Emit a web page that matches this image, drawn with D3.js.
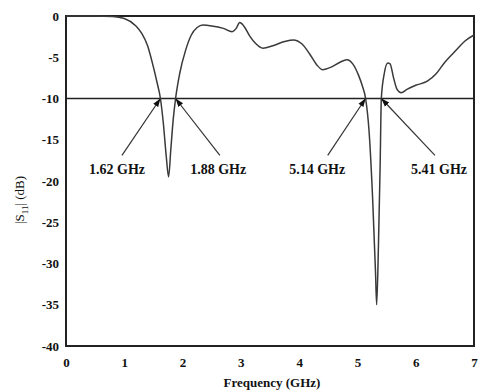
<!DOCTYPE html>
<html>
<head>
<meta charset="utf-8">
<script src="https://cdn.jsdelivr.net/npm/d3@7"></script>
<style>
  body { margin: 0; background: #fff; }
  svg text { font-family: "Liberation Serif", "Times New Roman", serif; fill: #111; }
</style>
</head>
<body>
<svg id="chart" width="479" height="392"></svg>
<script>
var freq = [0, 0.5, 0.8, 1.0, 1.2, 1.3, 1.4, 1.5, 1.56, 1.62, 1.67, 1.72, 1.76, 1.80, 1.84, 1.88,
  1.95, 2.05, 2.15, 2.25, 2.35, 2.5, 2.7, 2.85, 2.92, 2.98, 3.05, 3.15, 3.25, 3.38, 3.55, 3.75,
  3.9, 4.05, 4.18, 4.3, 4.4, 4.55, 4.7, 4.82, 4.92, 5.02, 5.09, 5.14, 5.2, 5.26, 5.31, 5.33,
  5.36, 5.39, 5.41, 5.46, 5.52, 5.56, 5.62, 5.68, 5.75, 5.85, 6.0, 6.2, 6.35, 6.5, 6.7, 6.85, 7.0];
var s11 = [0, 0, -0.05, -0.3, -1.2, -2.1, -3.6, -6.2, -8, -10, -13, -17, -19.5, -16, -12.5, -10,
  -7, -4.2, -2.3, -1.4, -1.1, -1.2, -1.5, -1.9, -1.5, -0.8, -1.2, -2.4, -3.3, -3.9, -3.6, -3.1,
  -2.9, -3.4, -4.6, -5.9, -6.5, -6.2, -5.6, -5.3, -5.8, -7.2, -8.6, -10, -14, -22, -31, -35,
  -28, -18, -10, -7, -5.7, -5.8, -7.5, -8.9, -9.3, -8.9, -8.4, -7.9, -7.0, -5.6, -4.1, -3.0, -2.3];

var xTicks = [0, 1, 2, 3, 4, 5, 6, 7];
var yTicks = [0, -5, -10, -15, -20, -25, -30, -35, -40];

// -10 dB marker crossings
var markFreq = [1.62, 1.88, 5.14, 5.41];
var markText = ["1.62 GHz", "1.88 GHz", "5.14 GHz", "5.41 GHz"];
var markLabelFreq = [0.875, 2.61, 4.31, 6.40];
var markStartFreq = [0.96, 2.64, 4.49, 6.33];

var margin = {top: 16, right: 5, bottom: 46, left: 66};
var W = 479, H = 392;
var svg = d3.select("#chart");

var x = d3.scaleLinear().domain([0, 7]).range([margin.left, W - margin.right]);
var y = d3.scaleLinear().domain([-40, 0]).range([H - margin.bottom, margin.top]);

svg.append("defs").append("marker")
  .attr("id", "arr")
  .attr("viewBox", "0 0 10 10")
  .attr("refX", 10).attr("refY", 5)
  .attr("markerWidth", 7).attr("markerHeight", 7)
  .attr("orient", "auto")
  .append("path").attr("d", "M0,1.5 L10,5 L0,8.5 Z").attr("fill", "#111");

// axes
var xAxis = svg.append("g")
  .attr("transform", "translate(0," + (H - margin.bottom) + ")")
  .call(d3.axisBottom(x).tickValues(xTicks).tickSize(0).tickPadding(12).tickFormat(d3.format("d")));
var yAxis = svg.append("g")
  .attr("transform", "translate(" + margin.left + ",0)")
  .call(d3.axisLeft(y).tickValues(yTicks).tickSize(0).tickPadding(7).tickFormat(function(d){ return d === 0 ? "0" : "-" + Math.abs(d); }));
[xAxis, yAxis].forEach(function(g){
  g.select(".domain").remove();
  g.selectAll("text").attr("font-family", "Liberation Serif").attr("font-weight", "bold").attr("font-size", 13).attr("fill", "#111");
});

// frame
svg.append("rect")
  .attr("x", x(0)).attr("y", y(0))
  .attr("width", x(7) - x(0)).attr("height", y(-40) - y(0))
  .attr("fill", "none").attr("stroke", "#222").attr("stroke-width", 2);

// -10 dB reference line
svg.append("line")
  .attr("x1", x(0)).attr("x2", x(7))
  .attr("y1", y(-10)).attr("y2", y(-10))
  .attr("stroke", "#222").attr("stroke-width", 1.5);

// curve
var line = d3.line()
  .x(function(d, i){ return x(freq[i]); })
  .y(function(d){ return y(d); })
  .curve(d3.curveMonotoneX);
svg.append("path")
  .attr("d", line(s11))
  .attr("fill", "none").attr("stroke", "#3a3a3a").attr("stroke-width", 1.5);

// annotations
markFreq.forEach(function(f, i){
  svg.append("line")
    .attr("x1", x(markStartFreq[i])).attr("y1", y(-16.9))
    .attr("x2", x(f)).attr("y2", y(-10))
    .attr("stroke", "#333").attr("stroke-width", 1.2)
    .attr("marker-end", "url(#arr)");
  svg.append("text")
    .attr("x", x(markLabelFreq[i])).attr("y", y(-19.15))
    .attr("text-anchor", "middle")
    .attr("font-weight", "bold").attr("font-size", 14)
    .text(markText[i]);
});

// axis titles
svg.append("text")
  .attr("x", (x(0) + x(7)) / 2 + 2).attr("y", 387)
  .attr("text-anchor", "middle")
  .attr("font-weight", "bold").attr("font-size", 13)
  .text("Frequency (GHz)");

var yl = svg.append("text")
  .attr("transform", "translate(24,200) rotate(-90)")
  .attr("text-anchor", "middle")
  .attr("font-size", 13);
yl.append("tspan").text("|S");
yl.append("tspan").attr("font-size", 9).attr("dy", 4).text("11");
yl.append("tspan").attr("dy", -4).text("| (dB)");
</script>
</body>
</html>
